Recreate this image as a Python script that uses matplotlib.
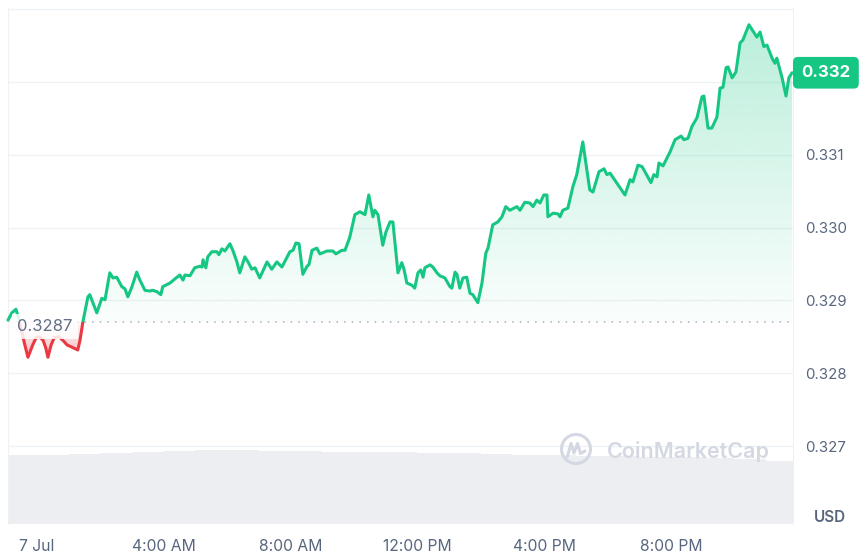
"""
plot.py
CoinMarketCap style 1-day price chart (green/red around the open price)
"""

import numpy as np
import matplotlib.pyplot as plt
from matplotlib.path import Path
from matplotlib.patches import Rectangle, Circle
from matplotlib.colors import to_rgb
from matplotlib.transforms import blended_transform_factory

# Price data, hours since 7 Jul 00:00
hours = [-0.91, -0.79, -0.66, -0.57, -0.45, -0.38, -0.28, -0.13, -0.02, 0.09,
         0.20, 0.28, 0.35, 0.45, 0.55, 0.70, 0.85, 0.95, 1.10, 1.29, 1.36, 1.45,
         1.61, 1.67, 1.89, 2.05, 2.15, 2.30, 2.40, 2.52, 2.68, 2.78,
         2.87, 3.00, 3.15, 3.25, 3.41, 3.56, 3.66, 3.79, 3.91, 3.97,
         4.20, 4.42, 4.51, 4.61, 4.67, 4.83, 4.98, 5.14, 5.21, 5.24,
         5.33, 5.39, 5.52, 5.68, 5.74, 5.84, 5.93, 6.09, 6.18, 6.31,
         6.40, 6.56, 6.66, 6.78, 6.88, 7.03, 7.26, 7.41, 7.57, 7.73,
         7.98, 8.08, 8.17, 8.27, 8.39, 8.52, 8.58, 8.68, 8.83, 8.93,
         9.15, 9.34, 9.43, 9.62, 9.72, 9.87, 10.03, 10.19, 10.35, 10.47,
         10.60, 10.66, 10.76, 10.91, 11.01, 11.14, 11.23, 11.39, 11.51, 11.58,
         11.67, 11.83, 11.92, 12.02, 12.11, 12.18, 12.24, 12.40, 12.49, 12.62,
         12.71, 12.87, 13.03, 13.09, 13.19, 13.25, 13.34, 13.44, 13.56, 13.66,
         13.75, 13.91, 14.04, 14.16, 14.23, 14.38, 14.54, 14.67, 14.79, 14.92,
         15.14, 15.24, 15.39, 15.55, 15.65, 15.77, 15.87, 15.99, 16.09, 16.12,
         16.28, 16.44, 16.50, 16.59, 16.75, 16.91, 17.03, 17.22, 17.44, 17.54,
         17.73, 17.89, 17.98, 18.08, 18.33, 18.55, 18.71, 18.80, 18.96, 19.09,
         19.37, 19.46, 19.56, 19.62, 19.75, 19.97, 20.13, 20.32, 20.41, 20.54,
         20.66, 20.82, 20.98, 21.04, 21.17, 21.29, 21.45, 21.55, 21.64, 21.74,
         21.80, 21.93, 22.05, 22.18, 22.27, 22.46, 22.62, 22.71, 22.81, 22.93,
         23.03, 23.19, 23.28, 23.34, 23.50, 23.63, 23.72, 23.82]
price = [0.32873, 0.32883, 0.32888, 0.32875, 0.32852, 0.32839, 0.32822, 0.32839, 0.32849, 0.32850,
         0.32845, 0.32835, 0.32822, 0.32839, 0.32849, 0.32850, 0.32844, 0.32839, 0.32836, 0.32832,
         0.32845, 0.32870,
         0.32905, 0.32908, 0.32883, 0.32903, 0.32901, 0.32938, 0.32931, 0.32932, 0.32919, 0.32916,
         0.32905, 0.32919, 0.32939, 0.32928, 0.32914, 0.32913, 0.32914, 0.32912, 0.32908, 0.32919,
         0.32924, 0.32932, 0.32935, 0.32928, 0.32935, 0.32934, 0.32945, 0.32947, 0.32946, 0.32956,
         0.32945, 0.32960, 0.32967, 0.32967, 0.32963, 0.32971, 0.32968, 0.32978, 0.32969, 0.32953,
         0.32938, 0.32960, 0.32953, 0.32943, 0.32945, 0.32931, 0.32953, 0.32943, 0.32953, 0.32946,
         0.32967, 0.32969, 0.32979, 0.32978, 0.32936, 0.32947, 0.32949, 0.32969, 0.32972, 0.32964,
         0.32968, 0.32968, 0.32964, 0.32969, 0.32969, 0.32987, 0.33018, 0.33022, 0.33018, 0.33045,
         0.33015, 0.33024, 0.33018, 0.32976, 0.32994, 0.33008, 0.33008, 0.32938, 0.32952, 0.32943,
         0.32924, 0.32921, 0.32917, 0.32938, 0.32942, 0.32932, 0.32945, 0.32949, 0.32946, 0.32938,
         0.32934, 0.32931, 0.32919, 0.32917, 0.32939, 0.32936, 0.32917, 0.32931, 0.32932, 0.32910,
         0.32908, 0.32897, 0.32924, 0.32965, 0.32972, 0.33004, 0.33008, 0.33015, 0.33029, 0.33024,
         0.33029, 0.33024, 0.33035, 0.33034, 0.33029, 0.33038, 0.33034, 0.33045, 0.33045, 0.33015,
         0.33020, 0.33019, 0.33015, 0.33024, 0.33027, 0.33057, 0.33073, 0.33118, 0.33052, 0.33049,
         0.33077, 0.33081, 0.33073, 0.33075, 0.33059, 0.33045, 0.33066, 0.33063, 0.33086, 0.33084,
         0.33062, 0.33073, 0.33070, 0.33089, 0.33085, 0.33104, 0.33121, 0.33126, 0.33121, 0.33123,
         0.33139, 0.33151, 0.33180, 0.33181, 0.33137, 0.33137, 0.33152, 0.33192, 0.33193, 0.33220,
         0.33221, 0.33206, 0.33214, 0.33254, 0.33258, 0.33279, 0.33268, 0.33262, 0.33269, 0.33249,
         0.33251, 0.33233, 0.33226, 0.33233, 0.33207, 0.33181, 0.33206, 0.33213]

open_price = 0.3287

# Hourly volume buckets (start hour, millions)
vol_hour = [-1, 0, 1, 2, 3, 4, 5, 6, 7, 8, 9, 10, 11, 12, 13, 14, 15, 16, 17, 18, 19, 20, 21, 22, 23]
volume = [6.9, 6.9, 7.0, 7.1, 7.2, 7.3, 7.4, 7.4, 7.3, 7.3, 7.2, 7.2, 7.2,
          7.1, 7.1, 7.0, 6.9, 6.9, 6.8, 6.8, 6.7, 6.7, 6.6, 6.5, 6.3]

price_ticks = [0.327, 0.328, 0.329, 0.330, 0.331]
grid_levels = [0.327, 0.328, 0.329, 0.330, 0.331, 0.332, 0.333]
time_ticks = [0, 4, 8, 12, 16, 20]
time_labels = ['7 Jul', '4:00 AM', '8:00 AM', '12:00 PM', '4:00 PM', '8:00 PM']

# Colours
green = '#16c784'
red = '#ea3943'
text_col = '#58667e'
grid_col = '#eff2f5'

plt.rcParams['font.family'] = ['Inter', 'DejaVu Sans']

W, H = 859, 556
fig = plt.figure(figsize=(W / 100, H / 100), dpi=100, facecolor='white')
rect = [8 / W, 1 - 524 / H, 785 / W, 516 / H]

# Volume underneath
axv = fig.add_axes(rect)
axv.bar(vol_hour, volume, width=1.0, align='edge', color='#eceef2', edgecolor='none')
axv.set_xlim(-0.91, 23.85)
axv.set_ylim(0, 51.6)
axv.axis('off')

# Price axes on top
ax = fig.add_axes(rect)
ax.patch.set_alpha(0)
xmin, xmax = -0.91, 23.85
ymin, ymax = 0.325928, 0.33302

t = np.array(hours)
p = np.array(price)

for lv in grid_levels:
    ax.axhline(lv, color=grid_col, lw=1, zorder=0)

# Green gradient area above the open price
pg = ax.fill_between(t, p, open_price, where=p >= open_price, interpolate=True,
                     facecolor='none', edgecolor='none')
g = np.zeros((256, 1, 4))
g[..., :3] = to_rgb(green)
g[:, 0, 3] = np.linspace(0.30, 0.02, 256)
im = ax.imshow(g, extent=[xmin, xmax, open_price, 0.3329], aspect='auto',
               origin='upper', zorder=1, interpolation='bilinear')
im.set_clip_path(Path.make_compound_path(*pg.get_paths()), transform=ax.transData)

# Red gradient area below the open price
pr = ax.fill_between(t, p, open_price, where=p <= open_price, interpolate=True,
                     facecolor='none', edgecolor='none')
r = np.zeros((256, 1, 4))
r[..., :3] = to_rgb(red)
r[:, 0, 3] = np.linspace(0.04, 0.35, 256)
im2 = ax.imshow(r, extent=[xmin, xmax, 0.3282, open_price], aspect='auto',
                origin='upper', zorder=1, interpolation='bilinear')
im2.set_clip_path(Path.make_compound_path(*pr.get_paths()), transform=ax.transData)

# Line, green above / red below the open price
lg, = ax.plot(t, p, color=green, lw=2.2, zorder=3, solid_joinstyle='round', solid_capstyle='round')
lg.set_clip_path(Rectangle((xmin - 5, open_price), 40, 1, transform=ax.transData))
lr, = ax.plot(t, p, color=red, lw=2.2, zorder=3, solid_joinstyle='round', solid_capstyle='round')
lr.set_clip_path(Rectangle((xmin - 5, open_price - 1), 40, 1, transform=ax.transData))

# Open price dotted line and label
ax.axhline(open_price, color='#a6b0c3', lw=1.1, ls=(0, (1, 4)), zorder=2)
ax.text(0.012, open_price - 0.00006, '0.3287', transform=blended_transform_factory(ax.transAxes, ax.transData),
        ha='left', va='center', fontsize=12, color='#616e85', zorder=4,
        bbox=dict(boxstyle='square,pad=0.3', fc='white', ec='none', alpha=0.85))

# Current price badge
ax.text(1.0106, price[-1], '0.332', transform=blended_transform_factory(ax.transAxes, ax.transData),
        ha='left', va='center', fontsize=12, color='white', fontweight='bold', zorder=5,
        bbox=dict(boxstyle='round,pad=0.5,rounding_size=0.3', fc=green, ec='none'), clip_on=False)

ax.set_xlim(xmin, xmax)
ax.set_ylim(ymin, ymax)
ax.yaxis.tick_right()
ax.set_yticks(price_ticks)
ax.set_yticklabels(['{:.3f}'.format(v) for v in price_ticks])
ax.set_xticks(time_ticks)
ax.set_xticklabels(time_labels)
ax.tick_params(axis='y', length=0, pad=9, labelsize=10.8, labelcolor=text_col)
ax.tick_params(axis='x', length=0, pad=11, labelsize=11.3, labelcolor=text_col)
for s in ['top', 'bottom']:
    ax.spines[s].set_visible(False)
for s in ['left', 'right']:
    ax.spines[s].set_color(grid_col)

fig.text(830 / W, 1 - 517 / H, 'USD', ha='center', va='center', fontsize=11,
         fontweight='semibold', color=text_col)

# Watermark
fig.text(607 / W, 1 - 452 / H, 'CoinMarketCap', ha='left', va='center', fontsize=15.5,
         fontweight='semibold', color='#d3d8e2', zorder=6)
cx, cy = 5.76, (H - 449) / 100
fig.patches.append(Circle((cx, cy), 0.145, transform=fig.dpi_scale_trans, fill=False,
                          ec='#d3d8e2', lw=2.2, zorder=6))
mx = np.array([-0.085, -0.05, -0.02, 0.015, 0.045, 0.09])
my = np.array([-0.075, 0.055, -0.04, 0.055, -0.045, -0.02])
fig.lines.append(plt.Line2D(cx + mx, cy + my, transform=fig.dpi_scale_trans, color='#d3d8e2',
                            lw=2.2, zorder=6, solid_joinstyle='round', solid_capstyle='round'))

plt.savefig('out.png', dpi=100, facecolor='white')
